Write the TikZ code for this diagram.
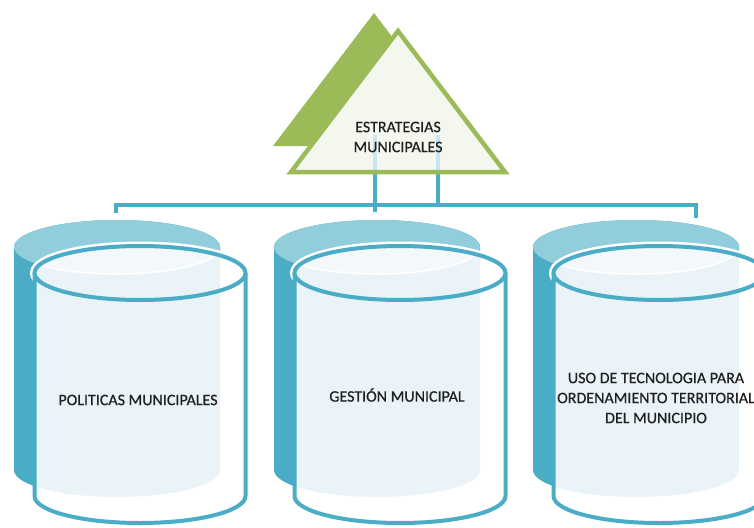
\documentclass[tikz,border=0pt]{standalone}
\usepackage{fontspec}
\setmainfont{Carlito}
\definecolor{tealA}{HTML}{4BACC6}
\definecolor{tealB}{HTML}{92CDDC}
\definecolor{tealC}{HTML}{C9E5EE}
\definecolor{paleA}{HTML}{EAF4F8}
\definecolor{paleB}{HTML}{F3F9FB}
\definecolor{oliveA}{HTML}{9BBB59}
\definecolor{trifill}{HTML}{F3F7EE}
\definecolor{txt}{HTML}{202020}
\tikzset{
  conn/.style={tealA, line width=4pt},
  faint/.style={tealC, line width=4pt},
  lbl/.style={text=txt, align=center, inner sep=0pt, font=\fontsize{16}{20}\selectfont\addfontfeature{FakeBold=0.6}},
  outl/.style={tealA, line width=4pt},
}
\newcommand\mycyl[1]{%
\begin{scope}[shift={(#1,0)}]
  % back cylinder
  \fill[tealA] (-126,247) -- (-126,470) arc[start angle=180,end angle=360,x radius=103pt,y radius=27pt]
     -- (80,247) arc[start angle=0,end angle=180,x radius=103pt,y radius=27pt] -- cycle;
  \fill[tealB] (-23,247) ellipse[x radius=103pt,y radius=27pt];
  \draw[white,line width=9pt] (0,273) ellipse[x radius=105.5pt,y radius=27pt];
  % front cylinder
  \fill[white] (-105.5,273) -- (-105.5,496) arc[start angle=180,end angle=360,x radius=105.5pt,y radius=27pt]
     -- (105.5,273) arc[start angle=0,end angle=180,x radius=105.5pt,y radius=27pt] -- cycle;
  \begin{scope}
    \clip (-105.5,273) -- (-105.5,496) arc[start angle=180,end angle=360,x radius=105.5pt,y radius=27pt]
     -- (105.5,273) arc[start angle=0,end angle=180,x radius=105.5pt,y radius=27pt] -- cycle;
    \fill[paleA] (-126,247) -- (-126,470) arc[start angle=180,end angle=360,x radius=103pt,y radius=27pt]
     -- (80,247) arc[start angle=0,end angle=180,x radius=103pt,y radius=27pt] -- cycle;
    \fill[paleB] (-23,247) ellipse[x radius=103pt,y radius=27pt];
    \draw[white,line width=1.5pt] (-126,247) arc[start angle=180,end angle=360,x radius=103pt,y radius=27pt];
  \end{scope}
  \draw[outl] (0,273) ellipse[x radius=105.5pt,y radius=27pt];
  \draw[outl] (-105.5,273) -- (-105.5,496) arc[start angle=180,end angle=360,x radius=105.5pt,y radius=27pt] -- (105.5,273);
\end{scope}}
\begin{document}
\begin{tikzpicture}[x=1pt,y=-1pt]
\clip (0,0) rectangle (754,527);
\fill[white] (0,0) rectangle (754,527);

% connector points
\coordinate (tA) at (375,135);
\coordinate (tAb) at (375,172);
\coordinate (tB) at (438,135);
\coordinate (tBb) at (438,172);
\coordinate (busA) at (375,212);
\coordinate (busB) at (438,205);
\coordinate (c1) at (116,213);
\coordinate (c1b) at (116,205);
\coordinate (c3b) at (696,205);
\coordinate (c3) at (696,218);

% back triangle
\fill[oliveA] (374,13) -- (273,146) -- (475,146) -- cycle;

% connectors
\draw[conn] (tAb) -- (busA);
\draw[conn] (tBb) -- (busB);
\draw[conn] (c1) -- (c1b) -- (c3b) -- (c3);

% front triangle
\fill[trifill] (398,31) -- (291,172) -- (505,172) -- cycle;
\draw[faint] (tA) -- (tAb);
\draw[faint] (tB) -- (tBb);
\draw[oliveA, line width=4.5pt, line join=miter] (398,31) -- (291,172) -- (505,172) -- cycle;
\node[lbl] (est) at (398,137) {ESTRATEGIAS\\MUNICIPALES};

% cylinders
\mycyl{140}
\mycyl{400}
\mycyl{659}
\node[lbl] (pol) at (138,400) {POLITICAS MUNICIPALES};
\node[lbl] (ges) at (397,395) {GESTIÓN MUNICIPAL};
\node[lbl] (uso) at (656,398) {USO DE TECNOLOGIA PARA\\ORDENAMIENTO TERRITORIAL\\DEL MUNICIPIO};
\end{tikzpicture}
\end{document}
